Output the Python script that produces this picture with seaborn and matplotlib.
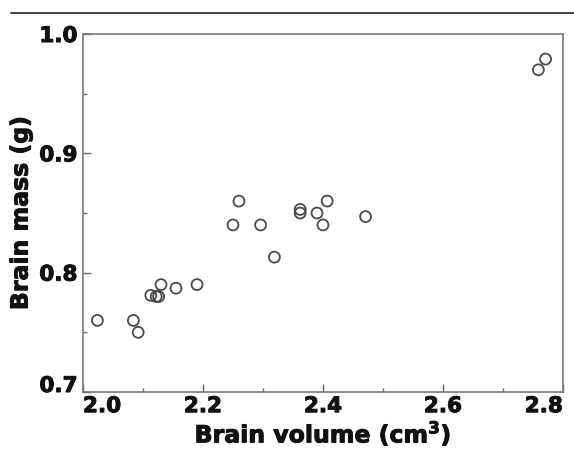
import matplotlib
matplotlib.use("Agg")
import pandas as pd
import seaborn as sns
import matplotlib.pyplot as plt
import matplotlib.patheffects as pe
from matplotlib.lines import Line2D
from matplotlib.ticker import MultipleLocator

# Brain volume (cm3) vs brain mass (g)
volume = [2.024, 2.084, 2.092, 2.113, 2.122, 2.126, 2.130, 2.155, 2.190,
          2.250, 2.260, 2.296, 2.319, 2.362, 2.362, 2.390, 2.400, 2.407,
          2.471, 2.759, 2.771]
mass = [0.760, 0.760, 0.750, 0.781, 0.780, 0.780, 0.790, 0.787, 0.790,
        0.840, 0.860, 0.840, 0.813, 0.853, 0.850, 0.850, 0.840, 0.860,
        0.847, 0.970, 0.979]
xticks = [2.0, 2.2, 2.4, 2.6, 2.8]
yticks = [0.7, 0.8, 0.9, 1.0]

df = pd.DataFrame({"volume": volume, "mass": mass})

sns.set_style("white")
plt.rcParams['font.family'] = ['DejaVu Sans']
plt.rcParams['mathtext.fontset'] = 'dejavusans'

fig = plt.figure(figsize=(5.74, 4.5), dpi=100)
ax = fig.add_axes([0.1446, 0.1289, 0.8362, 0.7955])

sns.scatterplot(data=df, x="volume", y="mass", ax=ax, marker="o",
                s=62, facecolor="none", edgecolor="#4a4a4a", linewidth=1.3)

ax.set_xticks(xticks, [f"{v:.1f}" for v in xticks])
ax.set_yticks(yticks, [f"{v:.1f}" for v in yticks])
ax.xaxis.set_minor_locator(MultipleLocator(0.1))
ax.yaxis.set_minor_locator(MultipleLocator(0.05))
ax.set_xlim(2.0, 2.8)
ax.set_ylim(0.7, 1.0)

ax.tick_params(which="major", direction="in", length=6, width=1, color="#666666",
               labelsize=15.5, bottom=True, left=True)
ax.tick_params(axis="x", which="major", pad=3)
ax.tick_params(axis="y", which="major", pad=4)
ax.tick_params(which="minor", direction="in", length=3, width=1, color="#666666",
               bottom=True, left=True)

heavy = [pe.withStroke(linewidth=0.7, foreground="#111111")]
xlabs = ax.get_xticklabels()
ylabs = ax.get_yticklabels()
for lab in xlabs + ylabs:
    lab.set_fontweight("bold")
    lab.set_color("#111111")
    lab.set_path_effects(heavy)
# end labels pulled inward like the original
xlabs[0].set_horizontalalignment("left")
xlabs[-1].set_horizontalalignment("right")
ylabs[0].set_verticalalignment("baseline")

for sp in ax.spines.values():
    sp.set_color("#777777")
    sp.set_linewidth(1.2)

ax.set_xlabel("Brain volume (cm$^\\mathbf{3}$)", fontsize=17, fontweight="bold",
              color="#111111", path_effects=heavy)
ax.set_ylabel("Brain mass (g)", fontsize=17, fontweight="bold",
              color="#111111", path_effects=heavy)
ax.xaxis.set_label_coords(0.5, -0.072)
ax.yaxis.set_label_coords(-0.105, 0.5)

# rule across the top of the figure
fig.add_artist(Line2D([0.02, 1.0], [0.971, 0.971], color="#222222", linewidth=1.2))

plt.savefig("out.png", dpi=100)
plt.close()
